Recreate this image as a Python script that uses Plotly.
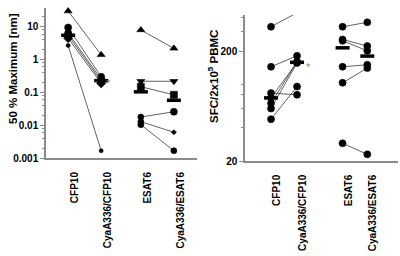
import plotly.graph_objects as go

categories = ["CFP10", "CyaA336/CFP10", "ESAT6", "CyaA336/ESAT6"]

# Left panel: 50 % Maximum [nm]
left_pos = [1, 2, 3.2, 4.2]
left_cfp10 = [30, 9.5, 6.5, 5.5, 4.5, 2.7]
left_cya_cfp10 = [1.4, 0.3, 0.25, 0.22, 0.19, 0.0017]
left_cfp_symbols = ["triangle-up", "circle", "circle", "square", "diamond", "circle"]
left_cfp_sizes = [7, 7, 7, 6, 7, 4]
left_esat6 = [8.0, 0.22, 0.15, 0.018, 0.013, 0.0105]
left_cya_esat6 = [2.2, 0.22, 0.085, 0.026, 0.0062, 0.0017]
left_esat_symbols = ["triangle-up", "triangle-down", "square", "circle", "circle", "circle"]
left_esat_sizes_a = [7, 7, 7, 6, 6, 6]
left_esat_sizes_b = [7, 7, 7, 7, 4, 6]
left_medians = [5.5, 0.23, 0.105, 0.058]

# Right panel: SFC/2x10^5 PBMC
right_pos = [1, 2, 3.75, 4.7]
right_cfp10 = [333, 144, 83, 75, 67, 60, 48]
right_cya_cfp10 = [446, 181, 80, 158, 160, 156, 95]
right_esat6 = [333, 255, 248, 144, 103, 29]
right_cya_esat6 = [365, 222, 201, 150, 140, 23]
right_medians = [75, 158, 214, 180]

W, H = 400, 256
line_col = "#3a3a3a"
axis_col = "#8a8a8a"
fig = go.Figure()

def pair(xa, xb, ya, yb, sym_a, sym_b, size_a, size_b, xref, yref):
    fig.add_trace(go.Scatter(
        x=[xa, xb], y=[ya, yb], mode="lines+markers",
        line=dict(color=line_col, width=0.8),
        marker=dict(color="black", opacity=1, symbol=[sym_a, sym_b], size=[size_a, size_b],
                    line=dict(width=0.6, color="black")),
        xaxis=xref, yaxis=yref, showlegend=False, cliponaxis=False))

for i in range(len(left_cfp10)):
    pair(left_pos[0], left_pos[1], left_cfp10[i], left_cya_cfp10[i],
         left_cfp_symbols[i], left_cfp_symbols[i], left_cfp_sizes[i], left_cfp_sizes[i], "x", "y")
for i in range(len(left_esat6)):
    sb = "diamond" if left_esat_sizes_b[i] == 4 else left_esat_symbols[i]
    pair(left_pos[2], left_pos[3], left_esat6[i], left_cya_esat6[i],
         left_esat_symbols[i], sb, left_esat_sizes_a[i], left_esat_sizes_b[i], "x", "y")
for i in range(len(right_cfp10)):
    pair(right_pos[0], right_pos[1], right_cfp10[i], right_cya_cfp10[i],
         "circle", "circle", 7, 7, "x2", "y2")
for i in range(len(right_esat6)):
    pair(right_pos[2], right_pos[3], right_esat6[i], right_cya_esat6[i],
         "circle", "circle", 7, 7, "x2", "y2")

# median bars
fig.add_trace(go.Scatter(x=left_pos, y=left_medians, mode="markers",
    marker=dict(symbol="line-ew", size=10, line=dict(color="black", width=3.5)),
    xaxis="x", yaxis="y", showlegend=False, cliponaxis=False))
fig.add_trace(go.Scatter(x=right_pos, y=right_medians, mode="markers",
    marker=dict(symbol="line-ew", size=10, line=dict(color="black", width=3.5)),
    xaxis="x2", yaxis="y2", showlegend=False, cliponaxis=False))

# asterisks
fig.add_annotation(x=2.22, y=-0.7, xref="x", yref="y", text="*", showarrow=False,
                   font=dict(color="#8a8a8a", size=11, family="Liberation Sans"))
fig.add_annotation(x=2.45, y=2.158, xref="x2", yref="y2", text="*", showarrow=False,
                   font=dict(color="#8a8a8a", size=11, family="Liberation Sans"))

tickfont = dict(family="Liberation Sans", size=10, color="black", weight="bold")

def xaxis_cfg(pos, rng, dom, off, anchor):
    return dict(domain=dom, range=rng, anchor=anchor, showgrid=False, zeroline=False,
                tickvals=[p + off for p in pos], ticktext=categories, tickangle=-90,
                ticks="", showline=True, linecolor=axis_col, linewidth=1.5,
                tickfont=tickfont, ticklabelstandoff=8, automargin=False)

fig.update_layout(
    width=W, height=H, margin=dict(l=0, r=0, t=0, b=0, autoexpand=False),
    paper_bgcolor="white", plot_bgcolor="white",
    xaxis=xaxis_cfg(left_pos, [0.33, 4.9], [46 / W, 197 / W], 0.2, "y"),
    xaxis2=xaxis_cfg(right_pos, [0, 5.88], [245 / W, 398 / W], 0.22, "y2"),
    yaxis=dict(type="log", domain=[1 - 158.3 / H, 1 - 8 / H], range=[-3, 1.57], anchor="x",
               tickvals=[0.001, 0.01, 0.1, 1, 10], ticktext=["0.001", "0.01", "0.1", "1", "10"],
               ticks="outside", ticklen=4, tickcolor=axis_col, showline=True, linecolor=axis_col,
               linewidth=1.5, showgrid=False, zeroline=False, tickfont=tickfont, automargin=False,
               minor=dict(tickvals=[m * 10 ** e for e in range(-3, 2) for m in (2, 4, 6, 8)],
                          ticks="outside", ticklen=2, tickcolor=axis_col, showgrid=False)),
    yaxis2=dict(type="log", domain=[1 - 161 / H, 1 - 15 / H], range=[1.301, 2.629], anchor="x2",
                tickvals=[20, 200], ticktext=["20", "200"],
                ticks="outside", ticklen=4, tickcolor=axis_col, showline=True, linecolor=axis_col,
                linewidth=1.5, showgrid=False, zeroline=False, tickfont=tickfont, automargin=False,
                minor=dict(tickvals=[40, 60, 80, 100, 300, 400],
                           ticks="outside", ticklen=2, tickcolor=axis_col, showgrid=False)),
)

title_font = dict(family="Liberation Sans", size=11.5, color="black", weight="bold")
fig.add_annotation(x=13 / W, y=1 - 69 / H, xref="paper", yref="paper", text="50 % Maximum [nm]",
                   textangle=-90, showarrow=False, xanchor="center", yanchor="middle", font=title_font)
fig.add_annotation(x=213 / W, y=1 - 77 / H, xref="paper", yref="paper",
                   text="SFC/2x10<sup>5</sup> PBMC",
                   textangle=-90, showarrow=False, xanchor="center", yanchor="middle", font=title_font)

fig.write_html("out.html", config={"displayModeBar": False},
               post_script="document.body.style.margin='0';document.body.style.padding='0';")
